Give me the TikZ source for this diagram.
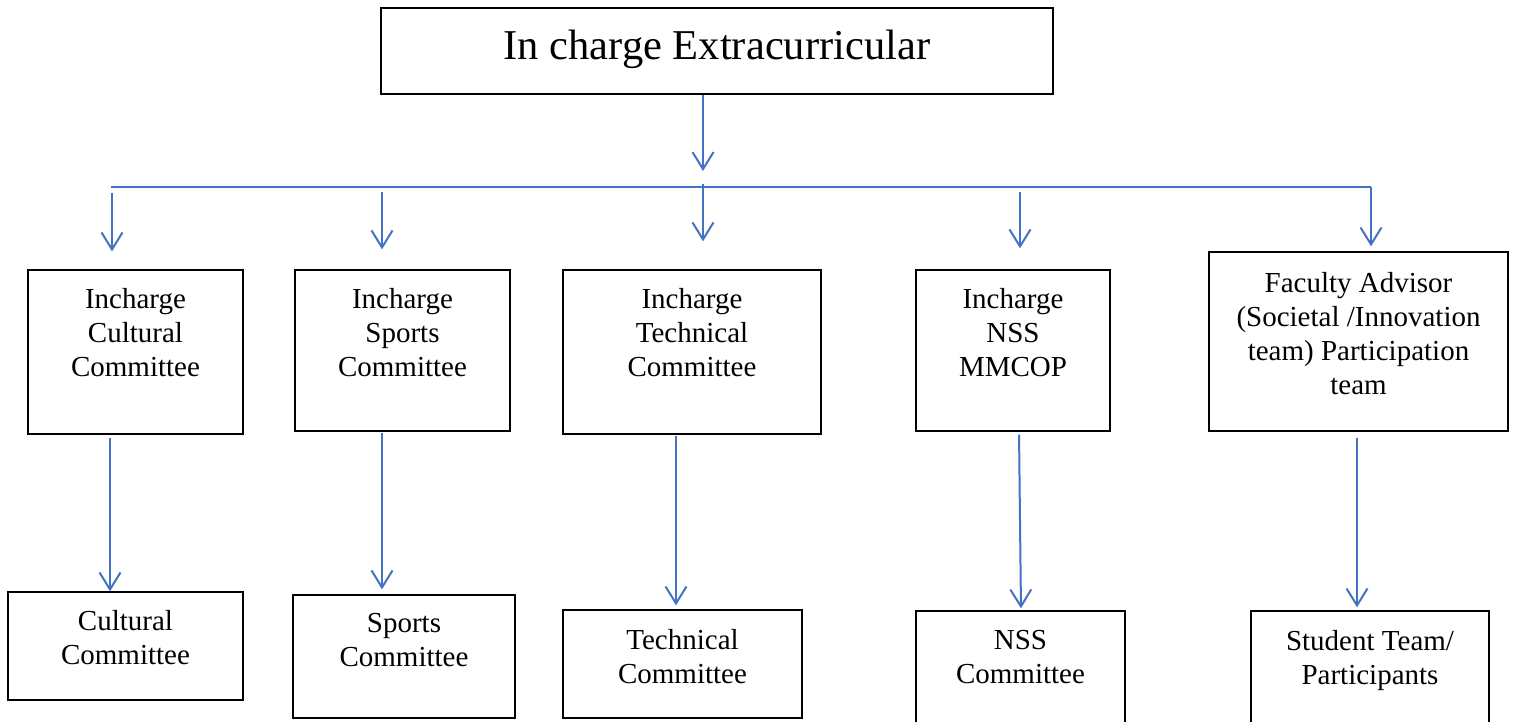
\documentclass[tikz,border=0pt]{standalone}
\usepackage{fontspec}
\setmainfont{Liberation Serif}
\usetikzlibrary{arrows.meta}
\definecolor{linkblue}{RGB}{68,114,196}
\begin{document}
\begin{tikzpicture}[x=1pt,y=-1pt,
  box/.style={draw=black, line width=1.3pt, inner sep=0pt},
  lbl/.style={anchor=north, inner sep=0pt, align=center,
    font=\fontsize{29}{34}\selectfont},
  ttl/.style={anchor=base, inner sep=0pt, font=\fontsize{42.5}{50}\selectfont},
  bus/.style={draw=linkblue, line width=2pt},
  arr/.style={bus, -{Straight Barb[length=17pt,width=21pt]}}]
\useasboundingbox (0,0) rectangle (1517,722);
\fill[white] (0,0) rectangle (1517,722);

% top box
\node[box, minimum width=672, minimum height=86] (top) at (717,51) {};
\node[ttl] (toptxt) at ([yshift=-52pt]top.north) {In charge Extracurricular};

% second row
\node[box, minimum width=215, minimum height=164] (cul2) at (135.5,352) {};
\node[box, minimum width=215, minimum height=161] (spo2) at (402.5,350.5) {};
\node[box, minimum width=258, minimum height=164] (tec2) at (692,352) {};
\node[box, minimum width=194, minimum height=161] (nss2) at (1013,350.5) {};
\node[box, minimum width=299, minimum height=179] (fac2) at (1358.5,341.5) {};

\node[lbl] (cul2t) at ([yshift=-19pt]cul2.north) {Incharge\\Cultural\\Committee};
\node[lbl] (spo2t) at ([yshift=-19pt]spo2.north) {Incharge\\Sports\\Committee};
\node[lbl] (tec2t) at ([yshift=-19pt]tec2.north) {Incharge\\Technical\\Committee};
\node[lbl] (nss2t) at ([yshift=-19pt]nss2.north) {Incharge\\NSS\\MMCOP};
\node[lbl] (fac2t) at ([yshift=-20.5pt]fac2.north) {Faculty Advisor\\(Societal /Innovation\\team) Participation\\team};

% third row
\node[box, minimum width=235, minimum height=108] (cul3) at (125.5,646) {};
\node[box, minimum width=222, minimum height=123] (spo3) at (404,656.5) {};
\node[box, minimum width=239, minimum height=108] (tec3) at (682.5,664) {};
\node[box, minimum width=209, minimum height=129] (nss3) at (1020.5,675.5) {};
\node[box, minimum width=238, minimum height=129] (stu3) at (1370,675.5) {};

\node[lbl] (cul3t) at ([yshift=-19pt]cul3.north) {Cultural\\Committee};
\node[lbl] (spo3t) at ([yshift=-19pt]spo3.north) {Sports\\Committee};
\node[lbl] (tec3t) at ([yshift=-19.5pt]tec3.north) {Technical\\Committee};
\node[lbl] (nss3t) at ([yshift=-20pt]nss3.north) {NSS\\Committee};
\node[lbl] (stu3t) at ([yshift=-20pt]stu3.north) {Student Team/\\Participants};

% distribution line
\coordinate (busL) at (111,187);
\coordinate (busR) at (1371,187);
\coordinate (t0) at (703,0);
\draw[bus] (busL) -- (busR);
\draw[arr, shorten >=16pt] (top.south -| t0) -- (busL -| t0);

% branches to the second row
\coordinate (s1) at (112,193);
\coordinate (s2) at (382,192);
\coordinate (s3) at (703,184);
\coordinate (s4) at (1020,192);
\draw[arr, shorten >=18pt] (s1) -- (cul2.north -| s1);
\draw[arr, shorten >=20pt] (s2) -- (spo2.north -| s2);
\draw[arr, shorten >=28pt] (s3) -- (tec2.north -| s3);
\draw[arr, shorten >=21pt] (s4) -- (nss2.north -| s4);
\draw[arr, shorten >=5pt] (busR) -- (fac2.north -| busR);

% second row to third row
\coordinate (c1) at (110,0);
\coordinate (c2) at (382,0);
\coordinate (c3) at (676,0);
\coordinate (c4) at (1019,0);
\coordinate (c4b) at (1021,0);
\coordinate (c5) at (1357,0);
\draw[arr, shorten <=3pt] (cul2.south -| c1) -- (cul3.north -| c1);
\draw[arr, shorten <=1pt, shorten >=5pt] (spo2.south -| c2) -- (spo3.north -| c2);
\draw[arr, shorten <=1pt, shorten >=4pt] (tec2.south -| c3) -- (tec3.north -| c3);
\draw[arr, shorten <=3pt, shorten >=2pt] (nss2.south -| c4) -- (nss3.north -| c4b);
\draw[arr, shorten <=6pt, shorten >=3pt] (fac2.south -| c5) -- (stu3.north -| c5);
\end{tikzpicture}
\end{document}
